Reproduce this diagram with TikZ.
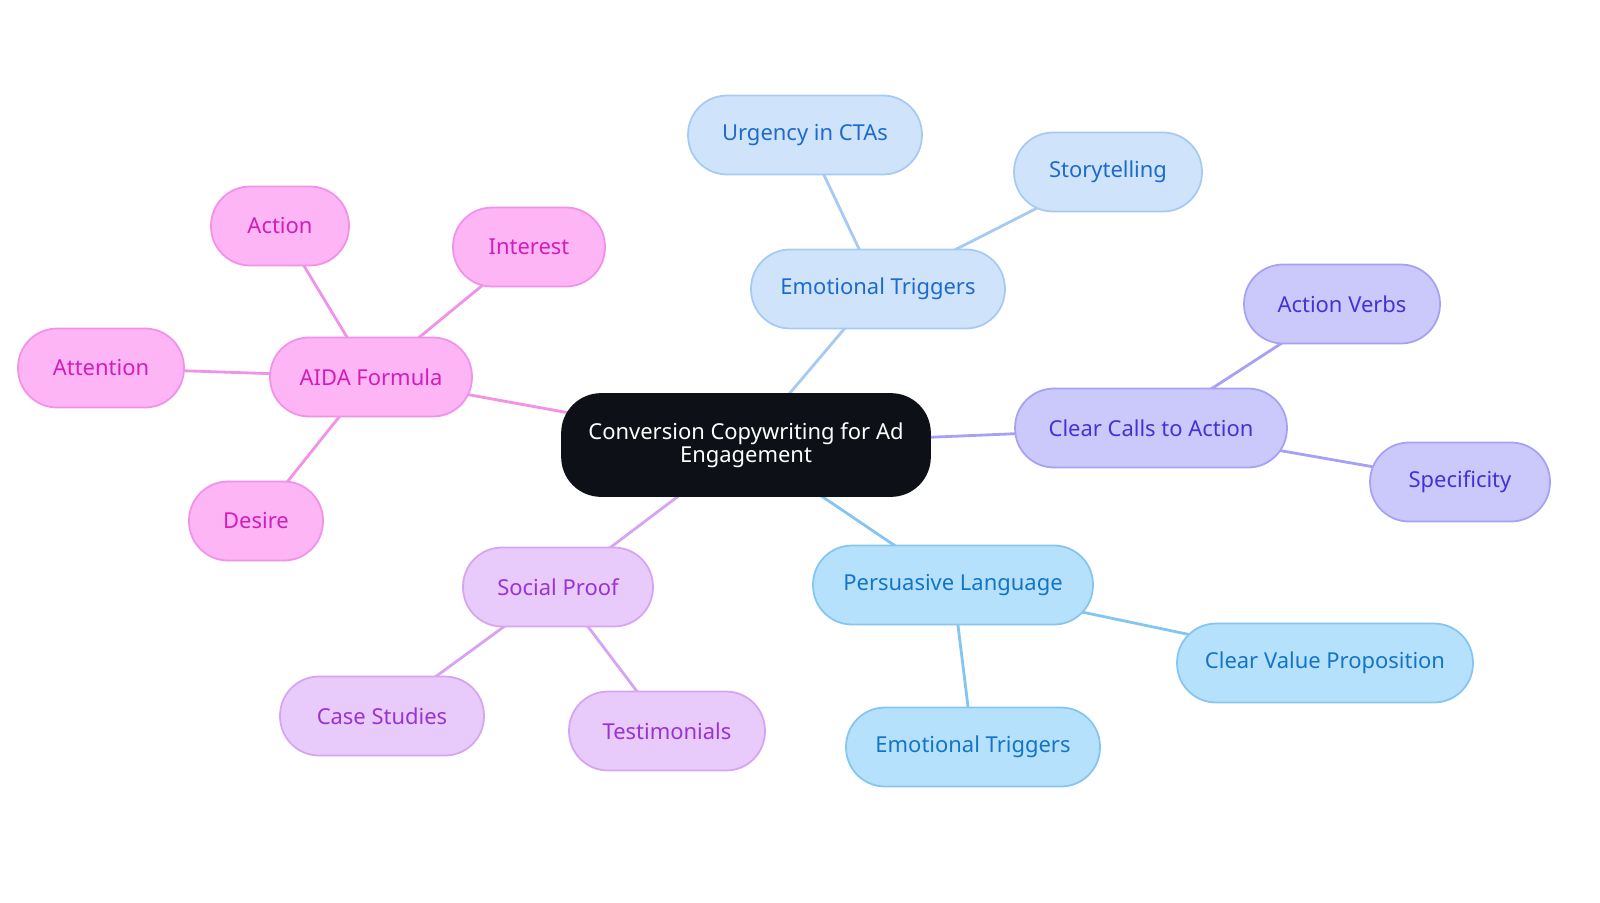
\documentclass[tikz,border=0pt]{standalone}
\usepackage{fontspec}
\setmainfont{Noto Sans}
\usepackage{xcolor}
\usetikzlibrary{backgrounds}
\definecolor{mmdark}{HTML}{0D1117}
\definecolor{pinkfill}{HTML}{FDB5F5}
\definecolor{pinkline}{HTML}{F191E8}
\definecolor{pinktext}{HTML}{D21DB8}
\definecolor{emofill}{HTML}{CFE3FB}
\definecolor{emoline}{HTML}{A6CAF3}
\definecolor{emotext}{HTML}{1F6BCB}
\definecolor{ctafill}{HTML}{CBC8FC}
\definecolor{ctaline}{HTML}{A6A1F4}
\definecolor{ctatext}{HTML}{4532D4}
\definecolor{perfill}{HTML}{B6E1FC}
\definecolor{perline}{HTML}{84C5F1}
\definecolor{pertext}{HTML}{1475C6}
\definecolor{socfill}{HTML}{E8CAFB}
\definecolor{socline}{HTML}{D5A4F3}
\definecolor{soctext}{HTML}{9A33D4}

\tikzset{
  pill/.style={draw, line width=1pt, rounded corners=0.78cm, minimum height=1.58cm,
    inner sep=0pt, align=center, font=\fontsize{12.5}{14}\selectfont},
  aida/.style={pill, fill=pinkfill, draw=pinkline, text=pinktext},
  emo/.style={pill, fill=emofill, draw=emoline, text=emotext},
  cta/.style={pill, fill=ctafill, draw=ctaline, text=ctatext},
  pers/.style={pill, fill=perfill, draw=perline, text=pertext},
  soc/.style={pill, fill=socfill, draw=socline, text=soctext},
  link/.style={line width=1.6pt}
}

\begin{document}
\begin{tikzpicture}[x=0.02cm, y=-0.02cm]
    \useasboundingbox (0,0) rectangle (1600,903);

    % Central topic
    \node[pill, fill=mmdark, draw=mmdark, text=white, minimum width=7.36cm, minimum height=2.04cm,
      font=\fontsize{12.5}{13}\selectfont] (root) at (746,445) {Conversion Copywriting for Ad\\Engagement};

    % Emotional triggers branch
    \node[emo, minimum width=5.08cm] (emot) at (878,289) {Emotional Triggers};
    \node[emo, minimum width=4.68cm] (urg) at (805,135) {Urgency in CTAs};
    \node[emo, minimum width=3.76cm] (story) at (1108,172) {Storytelling};

    % Calls to action branch
    \node[cta, minimum width=5.44cm] (calls) at (1151,428) {Clear Calls to Action};
    \node[cta, minimum width=3.92cm] (verbs) at (1342,304) {Action Verbs};
    \node[cta, minimum width=3.6cm] (spec) at (1460,482) {Specificity};

    % Persuasive language branch
    \node[pers, minimum width=5.6cm] (pers) at (953,585) {Persuasive Language};
    \node[pers, minimum width=5.92cm] (value) at (1325,663) {Clear Value Proposition};
    \node[pers, minimum width=5.08cm] (emob) at (973,747) {Emotional Triggers};

    % Social proof branch
    \node[soc, minimum width=3.8cm] (proof) at (558,587) {Social Proof};
    \node[soc, minimum width=4.08cm] (cases) at (382,716) {Case Studies};
    \node[soc, minimum width=3.92cm] (testi) at (667,731) {Testimonials};

    % AIDA branch
    \node[aida, minimum width=4.04cm] (aida) at (371,377) {AIDA Formula};
    \node[aida, minimum width=2.76cm] (act) at (280,226) {Action};
    \node[aida, minimum width=3.04cm] (int) at (529,247) {Interest};
    \node[aida, minimum width=3.32cm] (att) at (101,368) {Attention};
    \node[aida, minimum width=2.68cm] (des) at (256,521) {Desire};

    \begin{scope}[on background layer]
        \draw[link, emoline] (root.center) -- (emot.center);
        \draw[link, emoline] (emot.center) -- (urg.center);
        \draw[link, emoline] (emot.center) -- (story.center);
        \draw[link, ctaline] (root.center) -- (calls.center);
        \draw[link, ctaline] (calls.center) -- (verbs.center);
        \draw[link, ctaline] (calls.center) -- (spec.center);
        \draw[link, perline] (root.center) -- (pers.center);
        \draw[link, perline] (pers.center) -- (value.center);
        \draw[link, perline] (pers.center) -- (emob.center);
        \draw[link, socline] (root.center) -- (proof.center);
        \draw[link, socline] (proof.center) -- (cases.center);
        \draw[link, socline] (proof.center) -- (testi.center);
        \draw[link, pinkline] (root.center) -- (aida.center);
        \draw[link, pinkline] (aida.center) -- (act.center);
        \draw[link, pinkline] (aida.center) -- (int.center);
        \draw[link, pinkline] (aida.center) -- (att.center);
        \draw[link, pinkline] (aida.center) -- (des.center);
    \end{scope}
\end{tikzpicture}
\end{document}
